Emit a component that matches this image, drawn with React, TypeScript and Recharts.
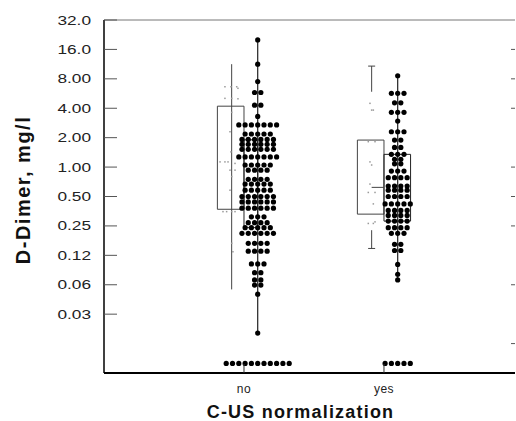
import {
  ComposedChart,
  Scatter,
  XAxis,
  YAxis,
  ReferenceArea,
  ReferenceLine,
  Label,
} from 'recharts';

// categories on the x axis, placed at 1 and 2
const categories = ['no', 'yes'];

// log2 y axis, labels as printed
const yTickValues = [32, 16, 8, 4, 2, 1, 0.5, 0.25, 0.125, 0.0625, 0.03125];
const yTickLabels = ['32.0', '16.0', '8.00', '4.00', '2.00', '1.00', '0.50', '0.25', '0.12', '0.06', '0.03'];
const rightTickValues = [16, 8, 4, 1, 0.5, 0.25, 0.0625, 0.015625];

// results under the detection limit are drawn in a row near the bottom
const undetectedValue = 0.0098;

// black dots, one entry per row of the swarm: value and number of dots
const noDotValues = [20.0, 11.3, 7.5, 5.8, 4.3, 3.3, 2.7, 2.18, 1.92, 1.71, 1.52, 1.27, 1.05, 0.93, 0.75, 0.67, 0.58, 0.5, 0.44, 0.38, 0.31, 0.27, 0.24, 0.21, 0.166, 0.138, 0.102, 0.083, 0.07, 0.062, 0.05, 0.02];
const noDotCounts = [1, 1, 1, 2, 2, 1, 7, 5, 6, 6, 6, 7, 5, 4, 4, 5, 5, 6, 6, 6, 3, 4, 5, 6, 4, 4, 3, 2, 2, 2, 1, 1];
const noUndetectedCount = 11;

const yesDotValues = [8.6, 5.68, 4.55, 3.63, 2.96, 2.3, 1.89, 1.59, 1.35, 1.2, 1.08, 0.91, 0.78, 0.64, 0.58, 0.5, 0.42, 0.36, 0.32, 0.28, 0.24, 0.21, 0.162, 0.14, 0.101, 0.08, 0.07];
const yesDotCounts = [1, 3, 2, 3, 1, 3, 2, 2, 3, 2, 2, 3, 4, 4, 4, 4, 5, 4, 4, 4, 4, 3, 2, 2, 1, 1, 1];
const yesUndetectedCount = 5;

// faint grey points left of each swarm, with their jitter
const noFaintValues = [6.64, 6.64, 6.64, 6.4, 5.05, 5.05, 5.0, 3.63, 2.3, 1.43, 1.13, 1.13, 1.13, 1.09, 0.93, 0.93, 0.8, 0.58, 0.35, 0.35, 0.35, 0.35, 0.166, 0.136];
const noFaintJitter = [-0.136, -0.093, -0.052, -0.043, -0.136, -0.088, -0.043, -0.088, -0.1, -0.093, -0.171, -0.136, -0.114, -0.064, -0.1, -0.064, -0.088, -0.1, -0.15, -0.124, -0.088, -0.064, -0.088, -0.079];
const yesFaintValues = [4.49, 3.83, 3.83, 1.82, 1.82, 1.13, 1.05, 0.67, 0.55, 0.55, 0.42, 0.265, 0.265, 0.275];
const yesFaintJitter = [-0.1, -0.088, -0.076, -0.112, -0.064, -0.1, -0.088, -0.1, -0.112, -0.064, -0.076, -0.112, -0.076, -0.064];

// boxes: grey one on the left of each category, black one behind the swarm
const greyQ1 = [0.37, 0.33];
const greyQ3 = [4.2, 1.89];
const greyMedian = [null, 0.62];
const greyWhiskers = [[[11.3, 0.056]], [[10.8, 5.9], [0.226, 0.147]]];
const greyCaps = [[], [10.8, 0.147]];
const blackQ1 = [0.24, 0.28];
const blackQ3 = [1.9, 1.35];
const blackWhiskers = [[20, 0.02], [8.6, 0.07]];

const BOX_W = 0.19;
const SWARM_OFFSET = 0.098;
const FAINT_OFFSET = -0.088;
const DOT_STEP = 0.045;
// the right side of the black "no" box is lost under the dense swarm
const blackBoxRight = [SWARM_OFFSET, BOX_W];

const FONT = "'Liberation Sans', Arial, sans-serif";

type Pt = { x: number; y: number };

function swarm(center: number, values: number[], counts: number[]): Pt[] {
  const pts: Pt[] = [];
  values.forEach((v, r) => {
    const n = counts[r];
    for (let i = 0; i < n; i++) pts.push({ x: center + (i - (n - 1) / 2) * DOT_STEP, y: v });
  });
  return pts;
}

function undetectedRow(center: number, n: number): Pt[] {
  return swarm(center, [undetectedValue], [n]);
}

const noPos = 1;
const yesPos = 2;

const blackDots = [
  ...swarm(noPos + SWARM_OFFSET, noDotValues, noDotCounts),
  ...undetectedRow(noPos + SWARM_OFFSET, noUndetectedCount),
  ...swarm(yesPos + SWARM_OFFSET, yesDotValues, yesDotCounts),
  ...undetectedRow(yesPos + SWARM_OFFSET, yesUndetectedCount),
];

const faintDots = [
  ...noFaintValues.map((v, i) => ({ x: noPos + noFaintJitter[i], y: v })),
  ...yesFaintValues.map((v, i) => ({ x: yesPos + yesFaintJitter[i], y: v })),
];

const BlackDot = (props: any) => <circle cx={props.cx} cy={props.cy} r={2.6} fill="#000" />;
const FaintDot = (props: any) => (
  <rect x={props.cx - 0.75} y={props.cy - 0.75} width={1.5} height={1.5} fill="#9a9a9a" />
);

const LeftTick = ({ x, y, payload }: any) => {
  const label = yTickLabels[yTickValues.indexOf(payload.value)];
  return (
    <g>
      <line x1={x} x2={x + 13} y1={y} y2={y} stroke="#555" />
      <text
        transform={`translate(${x - 13},${y}) scale(1.38,1)`}
        textAnchor="end"
        dy="0.36em"
        fontSize={12.5}
        fontFamily={FONT}
        fill="#222"
      >
        {label}
      </text>
    </g>
  );
};

const RightTick = ({ x, y }: any) => <line x1={x - 4} x2={x} y1={y} y2={y} stroke="#555" />;

const BottomTick = ({ x, y, payload }: any) => (
  <g>
    <line x1={x} x2={x} y1={y - 9} y2={y} stroke="#333" />
    <text x={x} y={y + 20} textAnchor="middle" fontSize={12} letterSpacing={0.5} fontFamily={FONT} fill="#222">
      {categories[payload.value - 1]}
    </text>
  </g>
);

export default function App() {
  const positions = [noPos, yesPos];

  return (
    <div style={{ position: 'absolute', left: 0, top: 0, width: 516, height: 421, background: '#fff' }}>
      <ComposedChart width={516} height={421} margin={{ top: 20, right: 0, bottom: 0, left: 0 }}>
        <XAxis
          type="number"
          dataKey="x"
          domain={[0, 2.936]}
          ticks={[1, 2]}
          height={48}
          tickSize={0}
          tickMargin={0}
          tickLine={false}
          tick={<BottomTick />}
          axisLine={{ stroke: '#000', strokeWidth: 2 }}
          allowDataOverflow
        >
          <Label
            content={(p: any) => (
              <text
                x={p.viewBox.x + p.viewBox.width / 2 - 9}
                y={p.viewBox.y + 45}
                textAnchor="middle"
                fontSize={18}
                fontWeight="bold"
                letterSpacing={1.2}
                fontFamily={FONT}
                fill="#111"
              >
                C-US normalization
              </text>
            )}
          />
        </XAxis>
        <YAxis
          type="number"
          dataKey="y"
          scale="log"
          domain={[0.0078125, 32]}
          ticks={yTickValues}
          width={104}
          tickSize={0}
          tickMargin={0}
          tickLine={false}
          tick={<LeftTick />}
          axisLine={{ stroke: '#000', strokeWidth: 1.5 }}
          allowDataOverflow
        >
          <Label
            content={() => (
              <text
                x={30}
                y={190}
                transform="rotate(-90 30 190)"
                textAnchor="middle"
                fontSize={20}
                fontWeight="bold"
                letterSpacing={1.5}
                fontFamily={FONT}
                fill="#111"
              >
                D-Dimer, mg/l
              </text>
            )}
          />
        </YAxis>
        <YAxis
          yAxisId="r"
          orientation="right"
          type="number"
          scale="log"
          domain={[0.0078125, 32]}
          ticks={rightTickValues}
          width={1}
          tickSize={0}
          tickMargin={0}
          tickLine={false}
          tick={<RightTick />}
          axisLine={false}
          allowDataOverflow
        />

        <ReferenceLine y={32} stroke="#777" strokeWidth={1} />

        {positions.map((pos, i) => (
          <ReferenceArea
            key={`grey-box-${i}`}
            x1={pos - BOX_W}
            x2={pos}
            y1={greyQ1[i]}
            y2={greyQ3[i]}
            fill="none"
            fillOpacity={0}
            stroke="#444"
            strokeWidth={1}
          />
        ))}
        {positions.map((pos, i) => (
          <ReferenceArea
            key={`black-box-${i}`}
            x1={pos}
            x2={pos + blackBoxRight[i]}
            y1={blackQ1[i]}
            y2={blackQ3[i]}
            fill="none"
            fillOpacity={0}
            stroke="#222"
            strokeWidth={1}
          />
        ))}
        {positions.flatMap((pos, i) =>
          greyWhiskers[i].map((w, j) => (
            <ReferenceLine
              key={`grey-wh-${i}-${j}`}
              segment={[
                { x: pos + FAINT_OFFSET, y: w[0] },
                { x: pos + FAINT_OFFSET, y: w[1] },
              ]}
              stroke="#444"
            />
          ))
        )}
        {positions.flatMap((pos, i) =>
          greyCaps[i].map((c, j) => (
            <ReferenceLine
              key={`grey-cap-${i}-${j}`}
              segment={[
                { x: pos + FAINT_OFFSET - 0.025, y: c },
                { x: pos + FAINT_OFFSET + 0.025, y: c },
              ]}
              stroke="#444"
            />
          ))
        )}
        {positions.map((pos, i) =>
          greyMedian[i] == null ? null : (
            <ReferenceLine
              key={`grey-med-${i}`}
              segment={[
                { x: pos + FAINT_OFFSET, y: greyMedian[i] as number },
                { x: pos, y: greyMedian[i] as number },
              ]}
              stroke="#444"
            />
          )
        )}
        {positions.map((pos, i) => (
          <ReferenceLine
            key={`black-wh-${i}`}
            segment={[
              { x: pos + SWARM_OFFSET, y: blackWhiskers[i][0] },
              { x: pos + SWARM_OFFSET, y: blackWhiskers[i][1] },
            ]}
            stroke="#222"
            strokeWidth={1.2}
          />
        ))}

        <Scatter data={faintDots} shape={<FaintDot />} isAnimationActive={false} />
        <Scatter data={blackDots} shape={<BlackDot />} isAnimationActive={false} />
      </ComposedChart>
    </div>
  );
}
